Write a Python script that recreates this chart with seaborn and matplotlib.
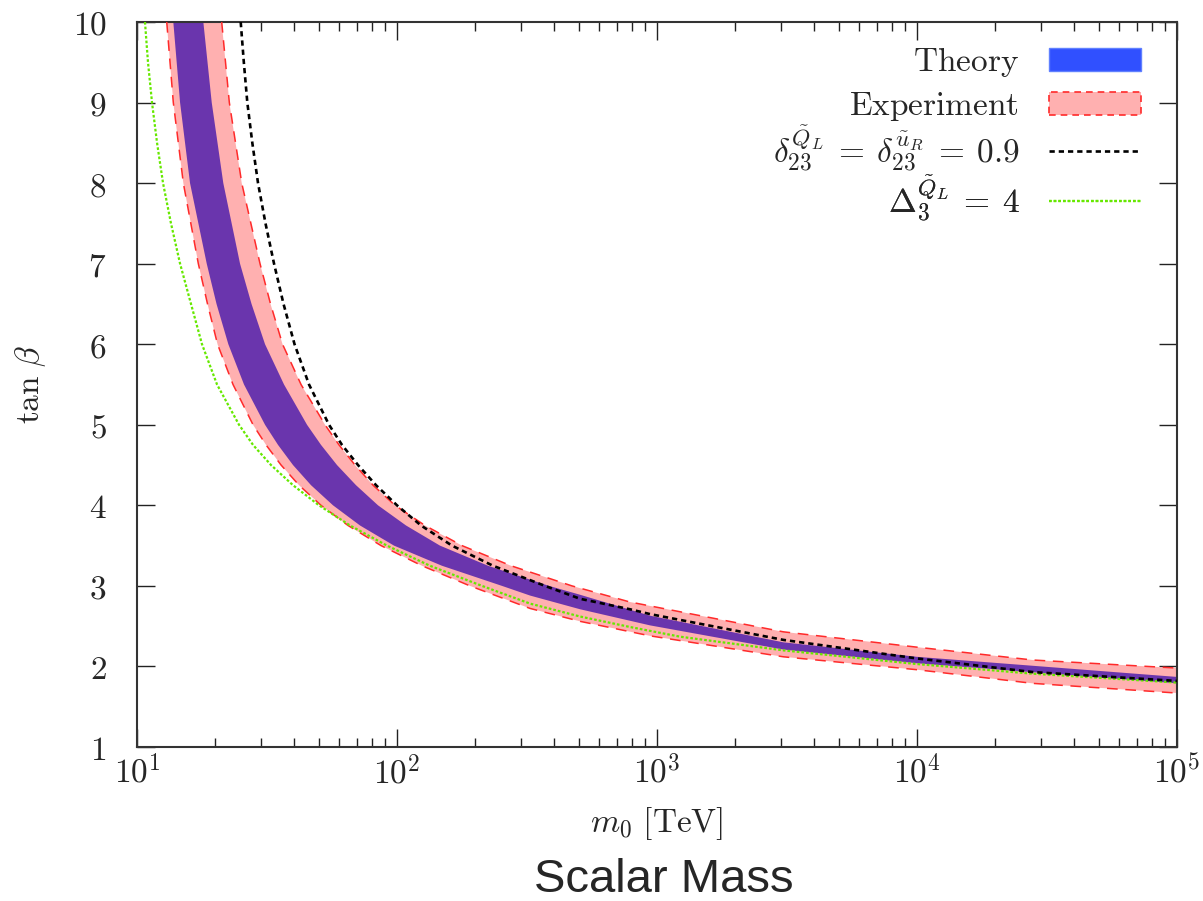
import numpy as np
import matplotlib
matplotlib.use("Agg")
import matplotlib.pyplot as plt
import seaborn as sns
from matplotlib.patches import Patch
from matplotlib.lines import Line2D
from matplotlib.ticker import LogLocator, NullFormatter

# ---------------- data ----------------
# Experiment band: lower / upper boundary (m0 [TeV], tan beta)
exp_low_m = [13.01, 13.79, 15.07, 17.21, 18.67, 20.40, 23.40, 27.94, 31.35, 35.81, 41.99, 51.02,
             64.79, 86.81, 124.8, 190.9, 325, 506, 940, 3060, 9970, 27900, 100000]
exp_low_t = [10, 9, 8, 7, 6.5, 6, 5.5, 5, 4.75, 4.5, 4.25, 4,
             3.75, 3.5, 3.25, 3.0, 2.72, 2.56, 2.38, 2.12, 1.96, 1.79, 1.67]
exp_up_m = [21.17, 22.65, 25.28, 29.72, 32.62, 36.28, 42.74, 52.86, 59.83, 68.94, 80.87, 98.24,
            128.1, 177.8, 274.4, 471.0, 787, 3060, 9970, 27900, 100000]
exp_up_t = [10, 9, 8, 7, 6.5, 6, 5.5, 5, 4.75, 4.5, 4.25, 4,
            3.75, 3.5, 3.25, 3.0, 2.80, 2.43, 2.24, 2.08, 1.98]

# Theory band: lower / upper boundary
th_low_m = [13.79, 14.64, 15.99, 18.54, 20.22, 22.45, 25.79, 31.07, 34.86, 39.81, 46.69, 56.74,
            72.06, 97.38, 148.9, 253.4, 325, 506, 940, 3060, 9970, 100000]
th_low_t = [10, 9, 8, 7, 6.5, 6, 5.5, 5, 4.75, 4.5, 4.25, 4,
            3.75, 3.5, 3.25, 3.0, 2.88, 2.71, 2.51, 2.21, 2.04, 1.79]
th_up_m = [17.99, 19.38, 21.47, 24.90, 27.57, 31.07, 36.76, 45.07, 51.02, 58.78, 69.55, 84.53,
           108.3, 146.3, 223.9, 384.3, 506, 940, 3060, 9970, 100000]
th_up_t = [10, 9, 8, 7, 6.5, 6, 5.5, 5, 4.75, 4.5, 4.25, 4,
           3.75, 3.5, 3.25, 3.0, 2.89, 2.63, 2.30, 2.12, 1.87]

# delta_23 = 0.9 curve
delta_m = [25.05, 25.75, 26.56, 27.76, 29.20, 31.20, 33.65, 36.60, 40.35, 45.87, 54.76, 61.43,
           70.79, 83.05, 100.0, 123.7, 162.7, 234.0, 370.9, 506, 787, 940, 3060, 9970, 27900, 100000]
delta_t = [10, 9.5, 9, 8.5, 8, 7.5, 7, 6.5, 6, 5.5, 5, 4.75,
           4.5, 4.25, 4, 3.75, 3.5, 3.25, 3.0, 2.84, 2.71, 2.65, 2.33, 2.10, 1.93, 1.82]

# Delta_3 = 4 curve
Delta_m = [10.73, 11.02, 11.42, 11.94, 12.59, 13.51, 14.64, 16.13, 17.78, 20.31, 24.68, 27.94,
           32.77, 39.81, 50.12, 65.95, 91.51, 133.9, 212.3, 325, 506, 787, 1225, 3060, 9970,
           27900, 100000]
Delta_t = [10, 9.5, 9, 8.5, 8, 7.5, 7, 6.5, 6, 5.5, 5, 4.75,
           4.5, 4.25, 4, 3.75, 3.5, 3.25, 3.0, 2.78, 2.62, 2.49, 2.37, 2.20, 2.03,
           1.91, 1.80]

x_ticks = [10, 100, 1000, 10000, 100000]
x_ticklabels = [r"$10^{1}$", r"$10^{2}$", r"$10^{3}$", r"$10^{4}$", r"$10^{5}$"]
y_ticks = [1, 2, 3, 4, 5, 6, 7, 8, 9, 10]
y_ticklabels = [rf"${v}$" for v in y_ticks]

legend_labels = [r"$\mathrm{Theory}$", r"$\mathrm{Experiment}$",
                 r"$\delta_{23}^{\tilde{Q}_L}\:=\:\delta_{23}^{\tilde{u}_R}\:=\:0.9$",
                 r"$\Delta_3^{\tilde{Q}_L}\:=\:4$"]

# ---------------- styling ----------------
sns.set_style("ticks")
plt.rcParams["mathtext.fontset"] = "cm"
plt.rcParams["font.family"] = ["DejaVu Sans"]

PINK = "#ffb0b0"
PURPLE = "#6a35ad"
RED = "#ff2a2a"
BLUE = "#3050ff"
GREEN = "#66e800"

fig = plt.figure(figsize=(12.03, 9.01), dpi=100)
ax = fig.add_axes([0.1139, 0.1709, 0.8645, 0.8047])
ax.set_xscale("log")

# Experiment band
ax.fill(np.concatenate([exp_low_m, exp_up_m[::-1]]),
        np.concatenate([exp_low_t, exp_up_t[::-1]]),
        color=PINK, lw=0, zorder=1)
# Theory band
ax.fill(np.concatenate([th_low_m, th_up_m[::-1]]),
        np.concatenate([th_low_t, th_up_t[::-1]]),
        color=PURPLE, lw=0, zorder=2)

red_ls = (0, (7, 5))
sns.lineplot(x=exp_low_m, y=exp_low_t, ax=ax, color=RED, lw=1.1, linestyle=red_ls,
             sort=False, legend=False, zorder=3)
sns.lineplot(x=exp_up_m, y=exp_up_t, ax=ax, color=RED, lw=1.1, linestyle=red_ls,
             sort=False, legend=False, zorder=3)

green_ls = (0, (1.2, 0.9))
black_ls = (0, (2.0, 1.5))
sns.lineplot(x=Delta_m, y=Delta_t, ax=ax, color=GREEN, lw=1.6, linestyle=green_ls,
             sort=False, legend=False, zorder=4)
sns.lineplot(x=delta_m, y=delta_t, ax=ax, color="black", lw=1.9, linestyle=black_ls,
             sort=False, legend=False, zorder=5)

ax.set_xlim(10, 1e5)
ax.set_ylim(1, 10)

ax.set_xticks(x_ticks)
ax.set_xticklabels(x_ticklabels)
ax.xaxis.set_minor_locator(LogLocator(base=10, subs=np.arange(2, 10)))
ax.xaxis.set_minor_formatter(NullFormatter())
ax.set_yticks(y_ticks)
ax.set_yticklabels(y_ticklabels)
ax.yaxis.set_minor_locator(plt.NullLocator())

ax.tick_params(which="both", direction="in", top=True, right=True, color="#222222")
ax.tick_params(which="major", length=13, width=1.0)
ax.tick_params(which="minor", length=6.5, width=1.0)
ax.tick_params(axis="x", which="major", labelsize=24, pad=6)
ax.tick_params(axis="y", which="major", labelsize=24, pad=22)
for sp in ax.spines.values():
    sp.set_linewidth(1.5)
    sp.set_color("#333333")

ax.set_xlabel(r"$m_0\ [\mathrm{TeV}]$", fontsize=24, labelpad=10)
ax.set_ylabel(r"$\tan\,\beta$", fontsize=24, labelpad=18)

# Legend: one entry per legend so that texts are right-aligned like the original
handles = [
    Patch(facecolor=BLUE, edgecolor="#6080ff", lw=1),
    Patch(facecolor=PINK, edgecolor=RED, lw=1.2, linestyle=(0, (4, 3))),
    Line2D([0], [0], color="black", lw=1.9, linestyle=black_ls),
    Line2D([0], [0], color=GREEN, lw=1.6, linestyle=green_ls),
]
y_centers = [62, 106, 148, 198]
for h, lab, yc in zip(handles, legend_labels, y_centers):
    leg = ax.legend([h], [lab], loc="center right",
                    bbox_to_anchor=(1141 / 1203, 1 - yc / 901),
                    bbox_transform=fig.transFigure, frameon=False,
                    markerfirst=False, fontsize=24, handlelength=2.75,
                    handleheight=0.7, handletextpad=0.9, borderpad=0,
                    borderaxespad=0)
    ax.add_artist(leg)

fig.text(664 / 1203, 1 - 880 / 901, "Scalar Mass", ha="center", va="center",
         fontsize=34, family=["Liberation Sans", "DejaVu Sans"])

fig.savefig("out.png", dpi=100)
